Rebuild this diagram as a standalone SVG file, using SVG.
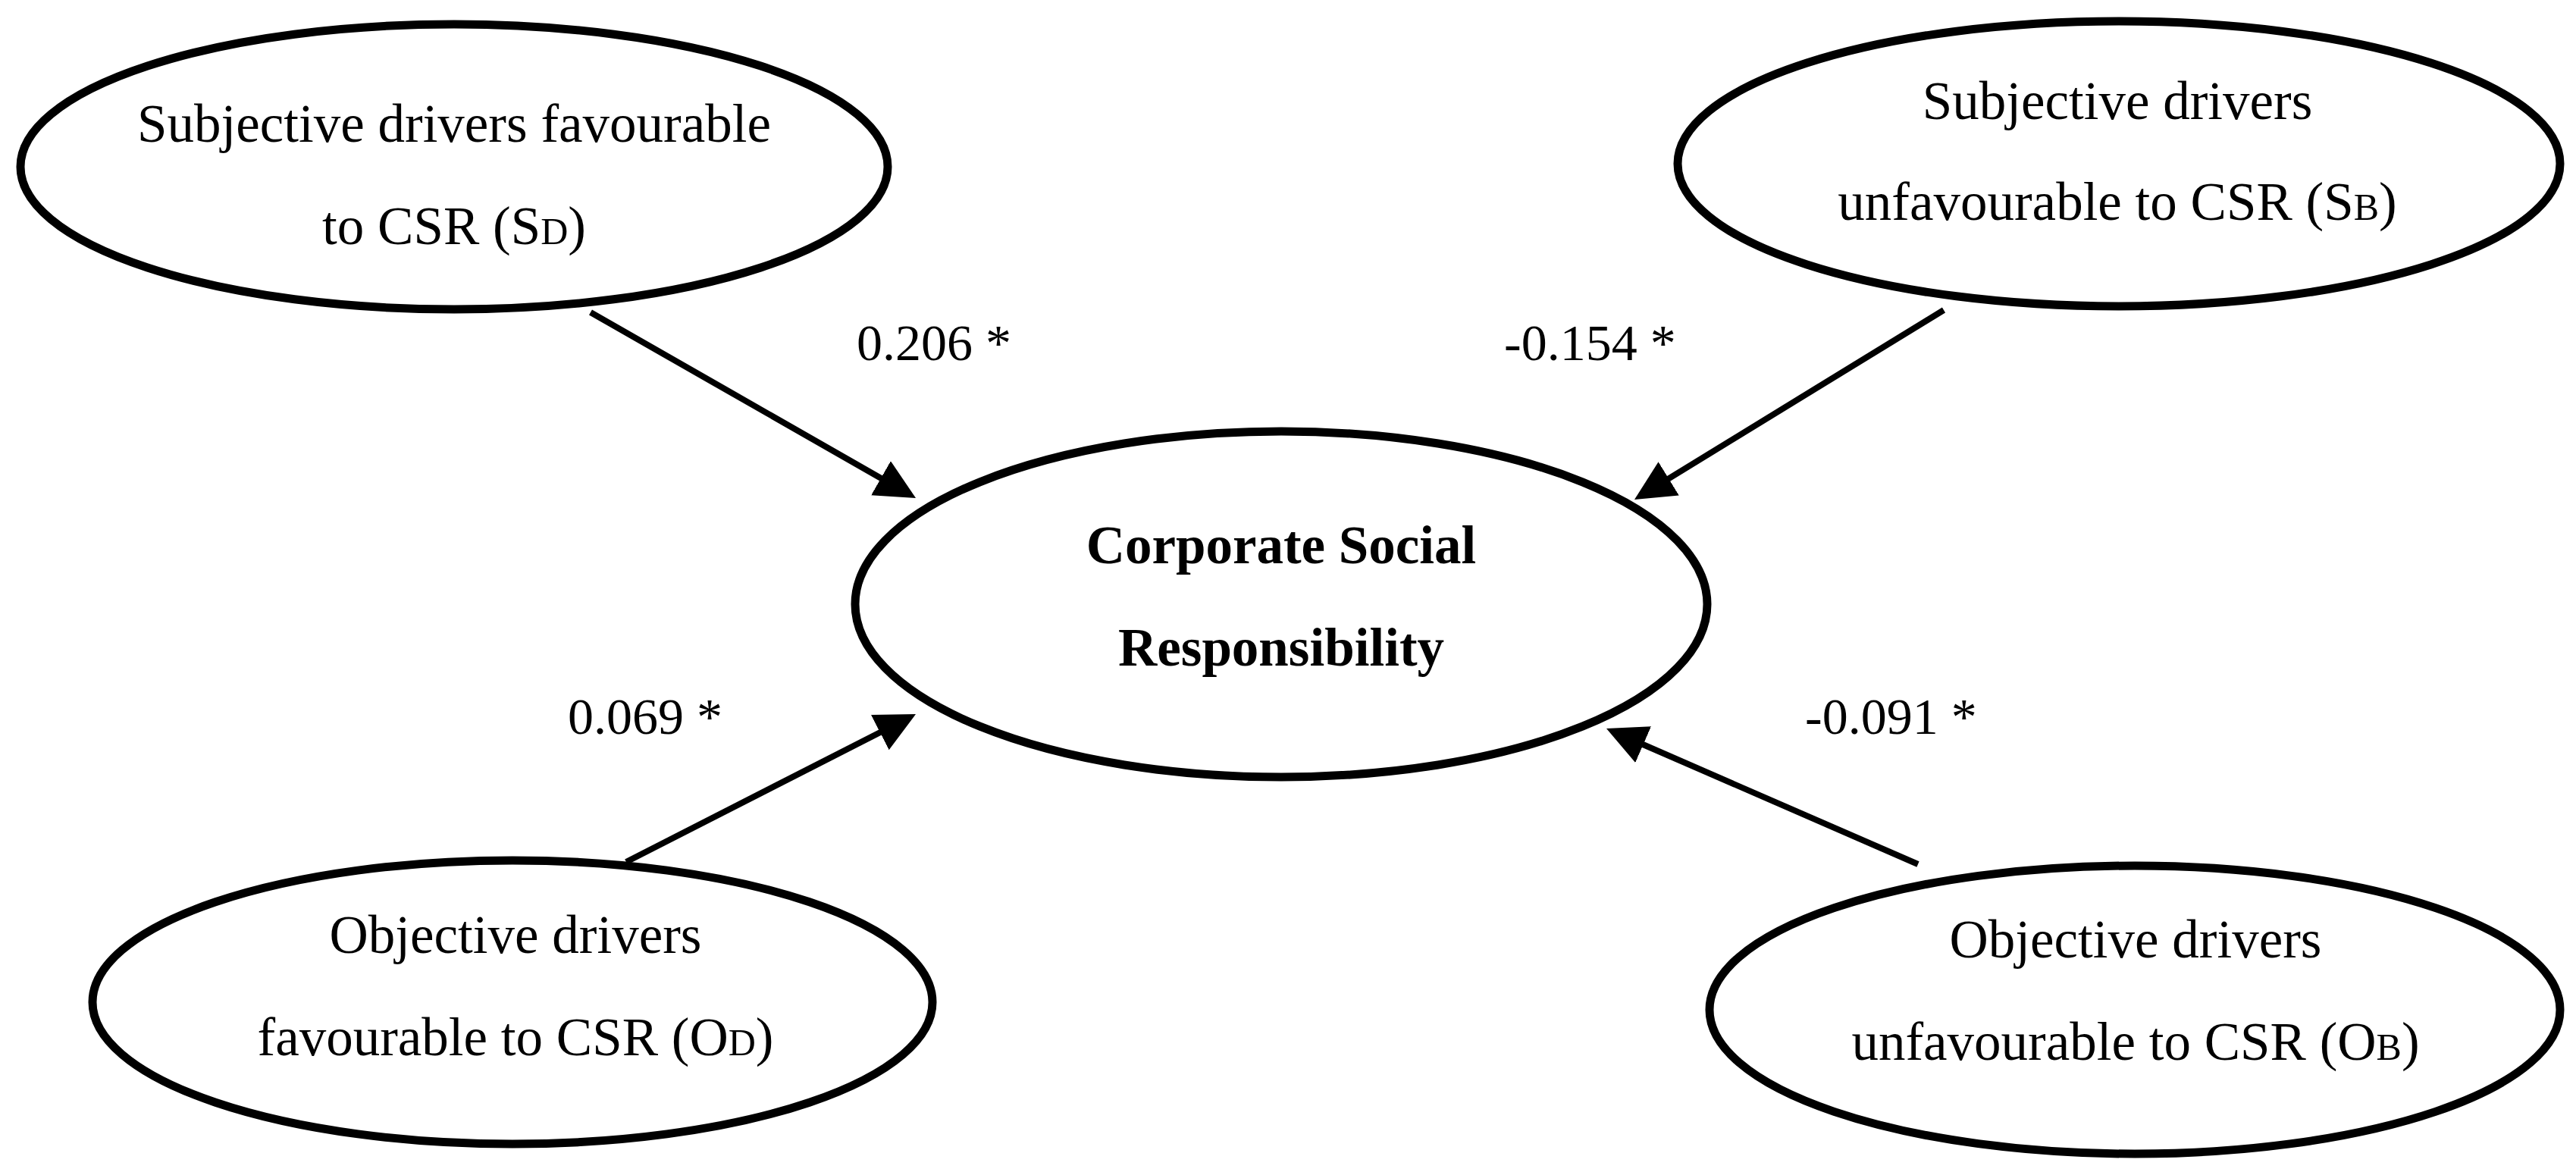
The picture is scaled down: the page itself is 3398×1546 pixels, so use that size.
<svg xmlns="http://www.w3.org/2000/svg" width="3398" height="1546" viewBox="0 0 3398 1546">
<style>
.node ellipse{fill:#fff;stroke:#000;stroke-width:11}
.node text{font-family:"Liberation Serif","Times New Roman",serif;font-size:71px;fill:#000;text-anchor:middle}
.node text.bold{font-weight:bold}
.sm{font-size:50px}
.conn line{stroke:#000;stroke-width:8;marker-end:url(#arrow)}
.lbl{font-family:"Liberation Serif","Times New Roman",serif;font-size:68px;fill:#000}
</style>
<defs>
<marker id="arrow" markerUnits="userSpaceOnUse" viewBox="0 0 53 52" refX="13" refY="26" markerWidth="53" markerHeight="52" orient="auto">
<path d="M0,0 L53,26 L0,52 z" fill="#000"/>
</marker>
</defs>
<rect width="3398" height="1546" fill="#fff"/>
<g id="connectors" class="conn">
<line x1="779" y1="412" x2="1173.3" y2="637.2"/>
<line x1="2564" y1="409" x2="2190.1" y2="638.1"/>
<line x1="826" y1="1137" x2="1172.4" y2="960.2"/>
<line x1="2530" y1="1140" x2="2155.7" y2="977"/>
</g>
<g id="node-sd" class="node">
<ellipse cx="599" cy="220" rx="572" ry="188"/>
<text x="599" y="187">Subjective drivers favourable</text>
<text x="599" y="322">to CSR (S<tspan class="sm">D</tspan>)</text>
</g>
<g id="node-sb" class="node">
<ellipse cx="2795" cy="216" rx="582" ry="188"/>
<text x="2793" y="157">Subjective drivers</text>
<text x="2793" y="290">unfavourable to CSR (S<tspan class="sm">B</tspan>)</text>
</g>
<g id="node-csr" class="node">
<ellipse cx="1690" cy="797" rx="562" ry="228"/>
<text class="bold" x="1690" y="743">Corporate Social</text>
<text class="bold" x="1690" y="878">Responsibility</text>
</g>
<g id="node-od" class="node">
<ellipse cx="676" cy="1322" rx="554" ry="187"/>
<text x="680" y="1257">Objective drivers</text>
<text x="680" y="1392">favourable to CSR (O<tspan class="sm">D</tspan>)</text>
</g>
<g id="node-ob" class="node">
<ellipse cx="2816" cy="1332" rx="561" ry="190"/>
<text x="2817" y="1263">Objective drivers</text>
<text x="2817" y="1398">unfavourable to CSR (O<tspan class="sm">B</tspan>)</text>
</g>
<g id="labels">
<text class="lbl" x="1130" y="475">0.206 *</text>
<text class="lbl" x="1984" y="475">-0.154 *</text>
<text class="lbl" x="749" y="968">0.069 *</text>
<text class="lbl" x="2381" y="968">-0.091 *</text>
</g>
</svg>
